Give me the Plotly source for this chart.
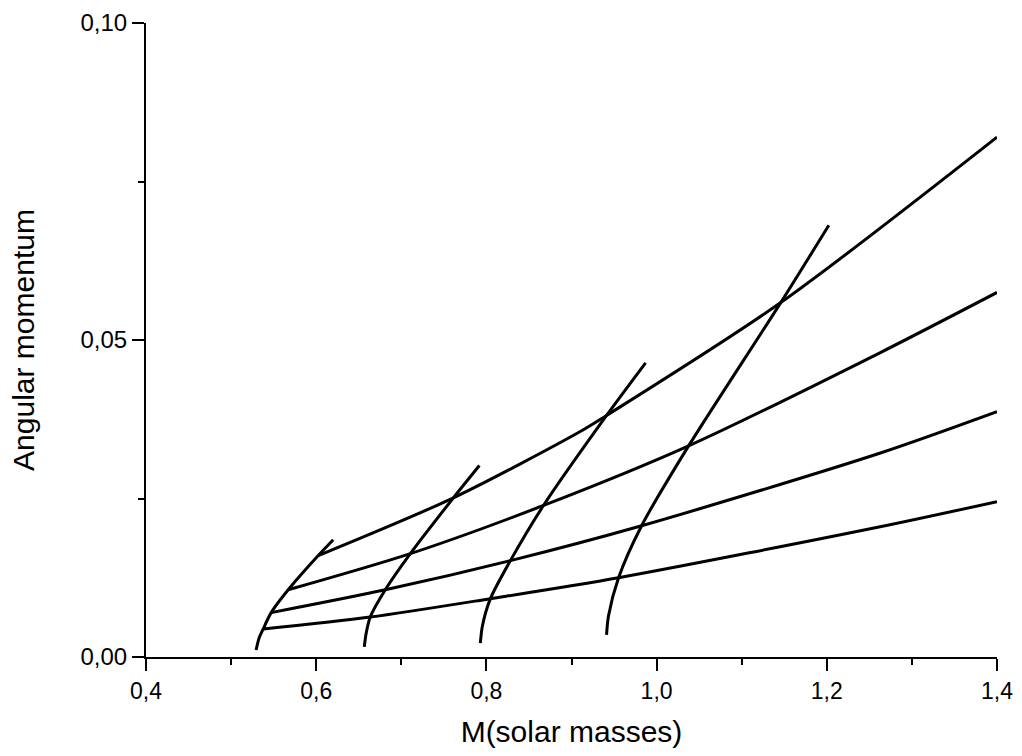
import plotly.graph_objects as go

# Flat curves (constant-parameter lines), mass vs angular momentum
flat_a_m = [0.6024, 0.7612, 0.9082, 0.9412, 1.1459, 1.4]
flat_a_j = [0.0160, 0.0251, 0.0354, 0.0381, 0.0559, 0.0820]
flat_b_m = [0.5671, 0.7106, 0.8671, 1.0376, 1.2612, 1.4]
flat_b_j = [0.0106, 0.0163, 0.0239, 0.0333, 0.0479, 0.0575]
flat_c_m = [0.5471, 0.6812, 0.8282, 0.9824, 1.2612, 1.4]
flat_c_j = [0.0070, 0.0106, 0.0152, 0.0207, 0.0321, 0.0387]
flat_d_m = [0.5376, 0.6635, 0.8047, 0.9553, 1.2612, 1.4]
flat_d_j = [0.0044, 0.0063, 0.0092, 0.0125, 0.0205, 0.0245]

# Steep curves
steep_1_m = [0.5294, 0.5329, 0.5376, 0.5471, 0.5671, 0.6024, 0.6200]
steep_1_j = [0.0011, 0.0030, 0.0044, 0.0070, 0.0106, 0.0160, 0.0185]
steep_2_m = [0.6565, 0.6588, 0.6635, 0.6812, 0.7106, 0.7612, 0.7918]
steep_2_j = [0.0016, 0.0038, 0.0063, 0.0106, 0.0163, 0.0251, 0.0302]
steep_3_m = [0.7929, 0.7953, 0.8047, 0.8282, 0.8671, 0.9412, 0.9871]
steep_3_j = [0.0022, 0.0049, 0.0092, 0.0152, 0.0239, 0.0381, 0.0464]
steep_4_m = [0.9412, 0.9435, 0.9553, 0.9824, 1.0376, 1.1459, 1.2024]
steep_4_j = [0.0035, 0.0065, 0.0125, 0.0207, 0.0333, 0.0559, 0.0681]

x_title = "M(solar masses)"
y_title = "Angular momentum"

series = [
    (flat_a_m, flat_a_j), (flat_b_m, flat_b_j), (flat_c_m, flat_c_j), (flat_d_m, flat_d_j),
    (steep_1_m, steep_1_j), (steep_2_m, steep_2_j), (steep_3_m, steep_3_j), (steep_4_m, steep_4_j),
]

fig = go.Figure()
for xs, ys in series:
    fig.add_trace(go.Scatter(
        x=xs, y=ys, mode="lines",
        line=dict(color="black", width=3, shape="spline", smoothing=0.8),
        showlegend=False, hoverinfo="skip",
    ))

font_family = "Liberation Sans, Arial, sans-serif"
fig.update_layout(
    width=1022, height=756,
    margin=dict(l=146, r=25, t=23, b=99, autoexpand=False),
    paper_bgcolor="white", plot_bgcolor="white",
    separators=",.",
    font=dict(family=font_family, color="black", size=24),
    xaxis=dict(
        range=[0.4, 1.4], tick0=0.4, dtick=0.2, tickformat=".1f",
        showgrid=False, zeroline=False, automargin=False,
        showline=True, linecolor="black", linewidth=2,
        ticks="outside", ticklen=12, tickwidth=2, tickcolor="black",
        tickfont=dict(size=23),
        minor=dict(dtick=0.1, ticks="outside", ticklen=6, tickwidth=2, tickcolor="black", showgrid=False),
        title=dict(text=x_title, font=dict(size=30), standoff=18),
    ),
    yaxis=dict(
        range=[0, 0.10], tick0=0, dtick=0.05, tickformat=".2f",
        showgrid=False, zeroline=False, automargin=False,
        showline=True, linecolor="black", linewidth=2,
        ticks="outside", ticklen=12, tickwidth=2, tickcolor="black",
        tickfont=dict(size=24),
        minor=dict(dtick=0.025, ticks="outside", ticklen=6, tickwidth=2, tickcolor="black", showgrid=False),
        title=dict(text=y_title, font=dict(size=30), standoff=37),
    ),
)

fig.write_html(
    "out.html",
    config={"displayModeBar": False, "staticPlot": True},
    post_script="document.body.style.margin='0';document.body.style.overflow='hidden';",
)
